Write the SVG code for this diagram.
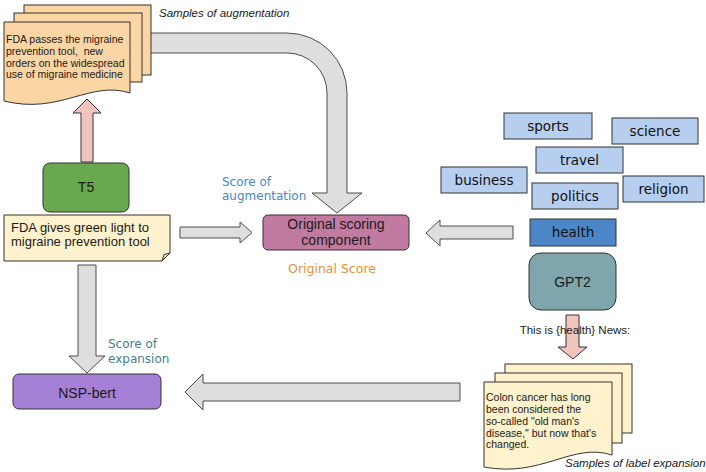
<svg xmlns="http://www.w3.org/2000/svg" width="706" height="472" viewBox="0 0 706 472">
  <style>
    .sans { font-family: "Liberation Sans", Arial, sans-serif; fill: #1a1a1a; }
    .hand { font-family: "Comic Sans MS", "DejaVu Sans", sans-serif; }
    .note { font-family: "Liberation Sans", Arial, sans-serif; font-size: 10.5px; fill: #1a1a1a; }
    .caption { font-family: "Liberation Sans", Arial, sans-serif; font-size: 11.5px; font-style: italic; fill: #1a1a1a; }
    .box { stroke: #333333; stroke-width: 1; }
    .gray { fill: #dedede; stroke: #4d4d4d; stroke-width: 1; }
    .pink { fill: #f1c5bd; stroke: #333333; stroke-width: 1; }
    .cat { fill: #b6cfef; stroke: #333333; stroke-width: 1; }
    .catText { font-family: "Comic Sans MS", "DejaVu Sans", sans-serif; font-size: 13.5px; fill: #111111; text-anchor: middle; }
    .label { font-size: 14px; text-anchor: middle; }
  </style>

  <!-- connectors: block arrows between the components -->
  <g id="connectors">
    <!-- augmented samples curve down into the scoring component -->
    <path class="gray" d="M140,33 H287 A60,60 0 0 1 347,93 V193 H362 L337,213 L312,193 H327 V93 A40,40 0 0 0 287,53 H140 Z"/>
    <!-- T5 up to augmented samples -->
    <path class="pink" d="M81,162 V113 H73 L87,99 L101,113 H93 V162 Z"/>
    <!-- input down to NSP-bert -->
    <path class="gray" d="M78,265 V356 H69 L87,373 L105,356 H96 V265 Z"/>
    <!-- input right to scoring component -->
    <path class="gray" d="M180,227 H240 V222 L252,232.5 L240,243 V238 H180 Z"/>
    <!-- label words left to scoring component -->
    <path class="gray" d="M513,226 V239 H440 V246 L426,233 L440,220 V226 Z"/>
    <!-- expansion samples left to NSP-bert -->
    <path class="gray" d="M460,383 V401 H203 V410 L185,392 L203,374 V383 Z"/>
    <!-- GPT2 down to expansion samples -->
    <path class="pink" d="M566,315 H579 V347 H587 L573,359 L558,347 H566 Z"/>
    <text class="sans" x="575" y="334" font-size="11.5" text-anchor="middle">This is {health} News:</text>
  </g>

  <!-- augmented sample stack -->
  <g id="augmentation-samples">
    <rect x="24" y="5" width="127" height="70" fill="#fcd5a4" stroke="#333333"/>
    <rect x="14" y="13" width="128" height="69" fill="#fcd5a4" stroke="#333333"/>
    <path d="M4,22 H130 V93 C90,80 60,115 4,101 Z" fill="#fcd5a4" stroke="#333333"/>
    <text class="note" x="6" y="43">FDA passes the migraine</text>
    <text class="note" x="6" y="55">prevention tool,&#160; new</text>
    <text class="note" x="6" y="66.5">orders on the widespread</text>
    <text class="note" x="6" y="78">use of migraine medicine</text>
    <text class="caption" x="159" y="17">Samples of augmentation</text>
  </g>

  <g id="t5">
    <rect class="box" x="43" y="163" width="86" height="49" rx="7" fill="#6aa84f"/>
    <text class="sans label" x="86" y="192">T5</text>
  </g>

  <g id="input-text">
    <path d="M4,215 H170 V253 L162,261 H4 Z" fill="#fff2cc" stroke="#333333"/>
    <path d="M170,253 L164,254.5 L162,261 Z" fill="#e6d9b2" stroke="#333333"/>
    <text class="sans" x="11" y="232" font-size="13">FDA gives green light to</text>
    <text class="sans" x="11" y="246" font-size="13">migraine prevention tool</text>
  </g>

  <g id="scoring">
    <rect class="box" x="263" y="215" width="146" height="35" rx="5" fill="#c27ba0"/>
    <text class="sans label" x="336" y="229">Original scoring</text>
    <text class="sans label" x="336" y="245">component</text>
    <text class="hand" x="332" y="273" font-size="12.5" fill="#e69138" text-anchor="middle">Original Score</text>
    <text class="hand" x="222" y="186" font-size="12" fill="#4a86c8">Score of</text>
    <text class="hand" x="222" y="200" font-size="12" fill="#4a86c8">augmentation</text>
  </g>

  <g id="nsp-bert">
    <rect class="box" x="13" y="374" width="148" height="35" rx="6" fill="#a680d6"/>
    <text class="sans label" x="87" y="398">NSP-bert</text>
    <text class="hand" x="108" y="348" font-size="12" fill="#45818e">Score of</text>
    <text class="hand" x="108" y="363" font-size="12" fill="#45818e">expansion</text>
  </g>

  <!-- candidate label words -->
  <g id="labels">
    <rect class="cat" x="504" y="113" width="88" height="26"/>
    <text class="catText" x="548" y="130.5">sports</text>
    <rect class="cat" x="612" y="118" width="86" height="26"/>
    <text class="catText" x="655" y="135.5">science</text>
    <rect class="cat" x="536" y="147" width="87" height="26"/>
    <text class="catText" x="579.5" y="164.5">travel</text>
    <rect class="cat" x="441" y="167" width="86" height="26"/>
    <text class="catText" x="484" y="184.5">business</text>
    <rect class="cat" x="532" y="183" width="86" height="26"/>
    <text class="catText" x="575" y="200.5">politics</text>
    <rect class="cat" x="623" y="176" width="81" height="26"/>
    <text class="catText" x="663.5" y="193.5">religion</text>
  </g>

  <g id="health">
    <rect x="530" y="219" width="86" height="27" fill="#4a86c8" stroke="#333333"/>
    <text class="catText" x="573" y="237">health</text>
  </g>

  <g id="gpt2">
    <rect class="box" x="529" y="253" width="87" height="57" rx="12" fill="#7fa6ac"/>
    <text class="sans label" x="572.5" y="287">GPT2</text>
  </g>

  <!-- label expansion sample stack -->
  <g id="expansion-samples">
    <rect x="505" y="364" width="127" height="69" fill="#fff2cc" stroke="#333333"/>
    <rect x="495" y="373" width="127" height="70" fill="#fff2cc" stroke="#333333"/>
    <path d="M484,382 H612 V455 C572,442 542,478 484,467 Z" fill="#fff2cc" stroke="#333333"/>
    <text class="note" x="486" y="401">Colon cancer has long</text>
    <text class="note" x="486" y="413">been considered the</text>
    <text class="note" x="486" y="425">so-called "old man's</text>
    <text class="note" x="486" y="437">disease," but now that's</text>
    <text class="note" x="486" y="448">changed.</text>
    <text class="caption" x="565" y="467" font-size="11">Samples of label expansion</text>
  </g>
</svg>
